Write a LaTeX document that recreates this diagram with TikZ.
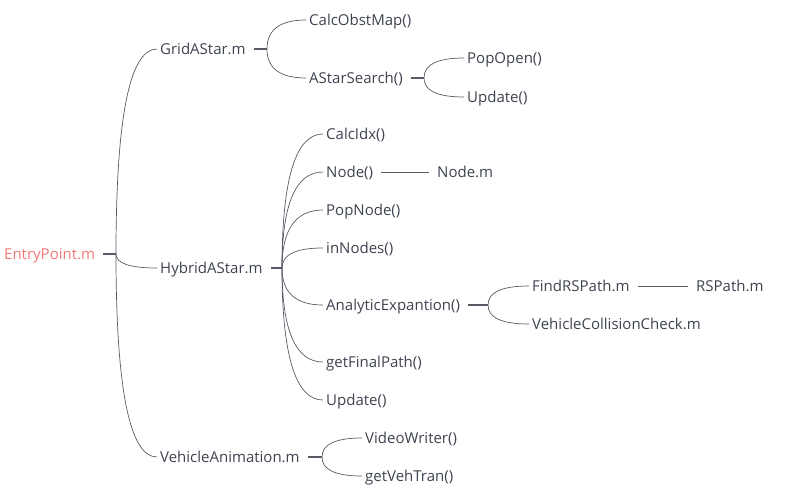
\documentclass[tikz,border=0pt]{standalone}
\usepackage{fontspec}
\setmainfont{Open Sans}
\usepackage{xcolor}
\definecolor{cText}{HTML}{3E4350}
\definecolor{cRoot}{HTML}{F27878}
\definecolor{cLine}{HTML}{565B66}
\usepackage{tikz}
\usetikzlibrary{positioning,calc}
\tikzset{
  mm-topic/.style={font=\fontsize{15}{18}\selectfont,text=cText,
    text height=10.7pt,text depth=0pt,inner sep=3pt,anchor=west},
  mm-root/.style={mm-topic,text=cRoot},
  mm-stub/.style={draw=cLine,line width=1.6pt,shorten <=5pt},
  mm-branch/.style={draw=cLine,line width=0.7pt},
  mm-link/.style={draw=cLine,line width=0.7pt,shorten <=5pt,shorten >=5pt},
}

\begin{document}
\begin{tikzpicture}[x=1pt,y=-1pt]
  \useasboundingbox (0,0) rectangle (794,495);
  % root and first level
  \node[mm-root]  (ep)  at (1,254)   {EntryPoint.m};
  \node[mm-topic] (ga)  at (157,49)  {GridAStar.m};
  \node[mm-topic] (ha)  at (157,268) {HybridAStar.m};
  \node[mm-topic] (va)  at (157,457) {VehicleAnimation.m};
  % GridAStar.m
  \node[mm-topic] (com) at (306,20)  {CalcObstMap()};
  \node[mm-topic] (ass) at (306,78)  {AStarSearch()};
  \node[mm-topic] (po)  at (464,58)  {PopOpen()};
  \node[mm-topic] (gup) at (464,97)  {Update()};
  % HybridAStar.m
  \node[mm-topic] (ci)  at (323,134) {CalcIdx()};
  \node[mm-topic] (nd)  at (323,172) {Node()};
  \node[mm-topic] (ndm) at (434,172) {Node.m};
  \node[mm-topic] (pn)  at (323,210) {PopNode()};
  \node[mm-topic] (in)  at (323,248) {inNodes()};
  \node[mm-topic] (ae)  at (323,305) {AnalyticExpantion()};
  \node[mm-topic] (gfp) at (323,362) {getFinalPath()};
  \node[mm-topic] (hup) at (323,400) {Update()};
  \node[mm-topic] (frs) at (529,286) {FindRSPath.m};
  \node[mm-topic] (rsp) at (693,286) {RSPath.m};
  \node[mm-topic] (vcc) at (529,324) {VehicleCollisionCheck.m};
  % VehicleAnimation.m
  \node[mm-topic] (vw)  at (362,438) {VideoWriter()};
  \node[mm-topic] (gvt) at (362,476) {getVehTran()};

  % branch points
  \coordinate (epb)  at (116,254);
  \coordinate (gab)  at (267,49);
  \coordinate (assb) at (424,78);
  \coordinate (hab)  at (282,268);
  \coordinate (aeb)  at (488,305);
  \coordinate (vab)  at (322,457);

  \draw[mm-stub] (ep.east)  -- (epb);
  \draw[mm-stub] (ga.east)  -- (gab);
  \draw[mm-stub] (ass.east) -- (assb);
  \draw[mm-stub] (ha.east)  -- (hab);
  \draw[mm-stub] (ae.east)  -- (aeb);
  \draw[mm-stub] (va.east)  -- (vab);

  % quadratic-looking curves from each branch point
  \foreach \from/\to in {epb/ga,epb/ha,epb/va,gab/com,gab/ass,assb/po,assb/gup,
      hab/ci,hab/nd,hab/pn,hab/in,hab/ae,hab/gfp,hab/hup,aeb/frs,aeb/vcc,
      vab/vw,vab/gvt}
    \draw[mm-branch] (\from)
      .. controls ($(\from)!2/3!(\from |- \to.west)$)
         and ($(\to.west)!2/3!(\from |- \to.west)$) .. (\to.west);

  \draw[mm-link] (nd.east)  -- (ndm.west);
  \draw[mm-link] (frs.east) -- (rsp.west);
\end{tikzpicture}
\end{document}
